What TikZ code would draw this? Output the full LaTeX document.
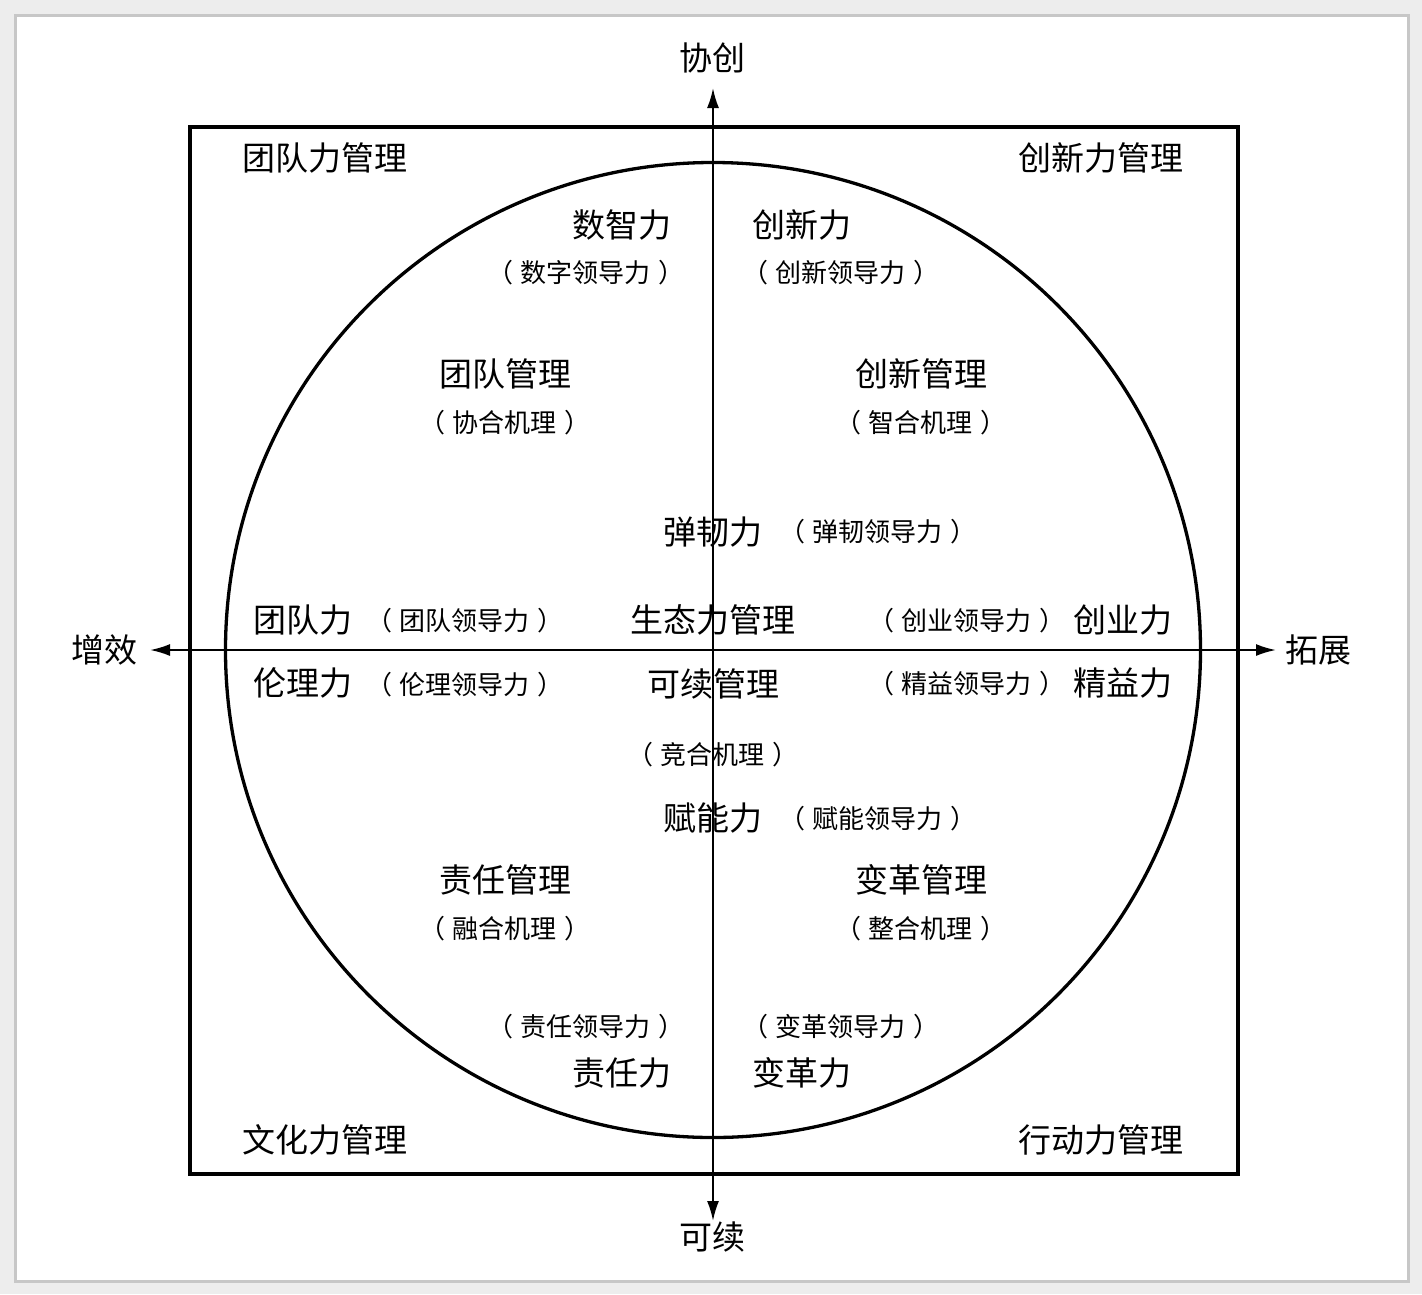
\documentclass[tikz,border=0pt]{standalone}
\usepackage{fontspec}
\newfontfamily\cjk{Noto Sans CJK SC}
\usetikzlibrary{arrows.meta}
\newcommand{\pp}[1]{（\hspace{8pt}#1\hspace{8pt}）}
\tikzset{
  big/.style={font=\cjk\fontsize{33}{33}\selectfont, inner sep=0pt},
  small/.style={font=\cjk\fontsize{26}{26}\selectfont, inner sep=0pt},
  axis/.style={line width=2.1pt, -{Latex[length=20pt,width=12pt]}},
  frame/.style={line width=3.3pt},
}
\begin{document}
\begin{tikzpicture}[x=1pt,y=-1pt]
\useasboundingbox (0,0) rectangle (1422,1294);
\fill[black!7] (0,0) rectangle (1422,1294);
\fill[white,draw=black!22,line width=3pt] (15,15) rectangle (1408,1281);
% frame and circle
\coordinate (c) at (713,650);
\draw[frame] (190,127) rectangle (1238,1174);
\draw[frame] (c) circle[radius=487.5];
% axes
\coordinate (top) at (713,88);
\coordinate (bot) at (713,1221);
\coordinate (lft) at (150,650);
\coordinate (rgt) at (1276,650);
\draw[axis] (c) -- (top);
\draw[axis] (c) -- (bot);
\draw[axis] (c) -- (lft);
\draw[axis] (c) -- (rgt);
\node[big] (xc) at (712,58) {协创};
\node[big] (kx) at (712,1237) {可续};
\node[big] (zx) at (104,650) {增效};
\node[big] (tz) at (1318,650) {拓展};
% corners
\node[big] (q1) at (325,158) {团队力管理};
\node[big] (q2) at (1101,158) {创新力管理};
\node[big] (q3) at (325,1140) {文化力管理};
\node[big] (q4) at (1101,1140) {行动力管理};
% top
\node[big] (szl) at (622,225) {数智力};
\node[small] (szld) at (586,273) {\pp{数字领导力}};
\node[big] (cxl) at (802,225) {创新力};
\node[small] (cxld) at (841,273) {\pp{创新领导力}};
\node[big] (tdgl) at (505,374) {团队管理};
\node[small] (xhjl) at (505,423) {\pp{协合机理}};
\node[big] (cxgl) at (921,374) {创新管理};
\node[small] (zhjl) at (921,423) {\pp{智合机理}};
\node[big] (trl) at (713,532) {弹韧力};
\node[small] (trld) at (878,532) {\pp{弹韧领导力}};
% middle
\node[big] (tdl) at (303,620) {团队力};
\node[small] (tdld) at (465,621) {\pp{团队领导力}};
\node[big] (stgl) at (713,620) {生态力管理};
\node[small] (cyld) at (967,621) {\pp{创业领导力}};
\node[big] (cyl) at (1123,620) {创业力};
\node[big] (llli) at (303,683) {伦理力};
\node[small] (llld) at (465,685) {\pp{伦理领导力}};
\node[big] (kxgl) at (713,684) {可续管理};
\node[small] (jyld) at (967,684) {\pp{精益领导力}};
\node[big] (jyl) at (1123,683) {精益力};
\node[small] (jhjl) at (713,755) {\pp{竞合机理}};
% bottom
\node[big] (fnl) at (713,818) {赋能力};
\node[small] (fnld) at (878,819) {\pp{赋能领导力}};
\node[big] (zrgl) at (505,880) {责任管理};
\node[small] (rhjl) at (505,929) {\pp{融合机理}};
\node[big] (bggl) at (921,880) {变革管理};
\node[small] (zhjl2) at (921,929) {\pp{整合机理}};
\node[small] (zrld) at (586,1027) {\pp{责任领导力}};
\node[big] (zrl) at (622,1073) {责任力};
\node[small] (bgld) at (841,1027) {\pp{变革领导力}};
\node[big] (bgl) at (802,1073) {变革力};
\end{tikzpicture}
\end{document}
